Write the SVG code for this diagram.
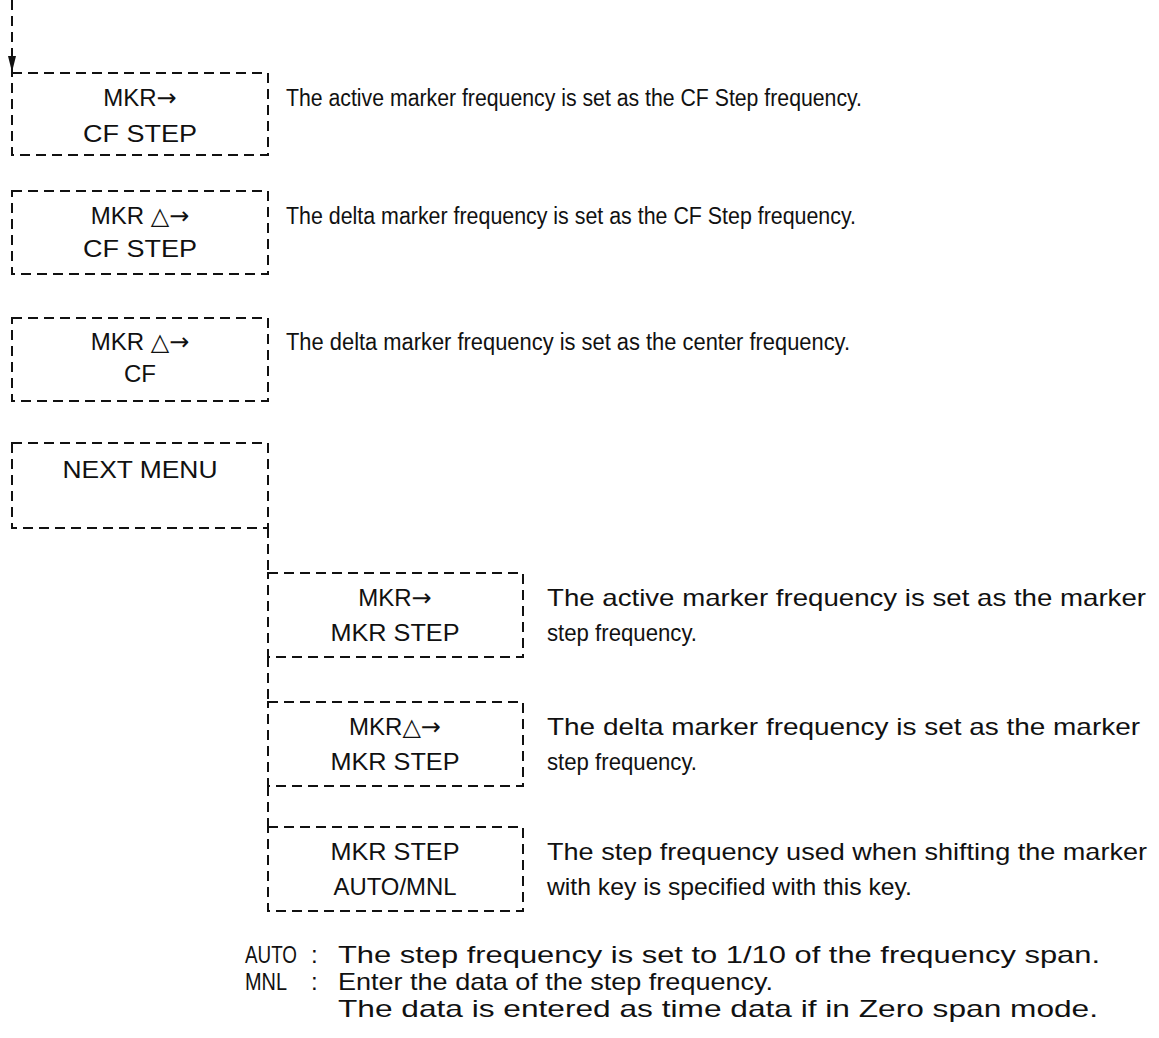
<svg xmlns="http://www.w3.org/2000/svg" width="1159" height="1038" viewBox="0 0 1159 1038">
<style>
.box{fill:none;stroke:#111;stroke-width:2;stroke-dasharray:10 6}
.con{fill:none;stroke:#111;stroke-width:2;stroke-dasharray:10 6}
text{font-family:"Liberation Sans","DejaVu Sans",sans-serif;font-size:23px;fill:#111}
.lbl{font-size:24px;text-anchor:middle}
.low{font-size:24px}
.ar{font-family:"DejaVu Sans",sans-serif}
</style>
<defs>
<marker id="ah" markerWidth="16" markerHeight="8" refX="16" refY="4" orient="auto" markerUnits="userSpaceOnUse" viewBox="0 0 16 8">
<path d="M0,0 L16,4 L0,8 Z" fill="#111"/>
</marker>
</defs>
<rect width="1159" height="1038" fill="#fff"/>
<g id="connectors">
<line class="con" x1="12" y1="0" x2="12" y2="72" marker-end="url(#ah)"/>
<line class="con" x1="268" y1="528" x2="268" y2="573"/>
<line class="con" x1="268" y1="657" x2="268" y2="702"/>
<line class="con" x1="268" y1="786" x2="268" y2="827"/>
</g>
<g id="n1">
<rect class="box" x="12" y="73" width="256" height="82"/>
<text class="lbl" x="140" y="106">MKR<tspan class="ar">→</tspan></text>
<text class="lbl" x="140" y="142" textLength="114" lengthAdjust="spacingAndGlyphs">CF STEP</text>
<text x="286" y="106" textLength="576" lengthAdjust="spacingAndGlyphs">The active marker frequency is set as the CF Step frequency.</text>
</g>
<g id="n2">
<rect class="box" x="12" y="191" width="256" height="83"/>
<text class="lbl" x="140" y="224">MKR △<tspan class="ar">→</tspan></text>
<text class="lbl" x="140" y="257" textLength="114" lengthAdjust="spacingAndGlyphs">CF STEP</text>
<text x="286" y="224" textLength="570" lengthAdjust="spacingAndGlyphs">The delta marker frequency is set as the CF Step frequency.</text>
</g>
<g id="n3">
<rect class="box" x="12" y="318" width="256" height="83"/>
<text class="lbl" x="140" y="350">MKR △<tspan class="ar">→</tspan></text>
<text class="lbl" x="140" y="382">CF</text>
<text x="286" y="350" textLength="564" lengthAdjust="spacingAndGlyphs">The delta marker frequency is set as the center frequency.</text>
</g>
<g id="n4">
<rect class="box" x="12" y="443" width="256" height="85"/>
<text class="lbl" x="140" y="478" textLength="155" lengthAdjust="spacingAndGlyphs">NEXT MENU</text>
</g>
<g id="n5">
<rect class="box" x="268" y="573" width="255" height="84"/>
<text class="lbl" x="395" y="606">MKR<tspan class="ar">→</tspan></text>
<text class="lbl" x="395" y="641" textLength="129" lengthAdjust="spacingAndGlyphs">MKR STEP</text>
<text class="low" x="547" y="606" textLength="599" lengthAdjust="spacingAndGlyphs">The active marker frequency is set as the marker</text>
<text class="low" x="547" y="641" textLength="150" lengthAdjust="spacingAndGlyphs">step frequency.</text>
</g>
<g id="n6">
<rect class="box" x="268" y="702" width="255" height="84"/>
<text class="lbl" x="395" y="735">MKR△<tspan class="ar">→</tspan></text>
<text class="lbl" x="395" y="770" textLength="129" lengthAdjust="spacingAndGlyphs">MKR STEP</text>
<text class="low" x="547" y="735" textLength="593" lengthAdjust="spacingAndGlyphs">The delta marker frequency is set as the marker</text>
<text class="low" x="547" y="770" textLength="150" lengthAdjust="spacingAndGlyphs">step frequency.</text>
</g>
<g id="n7">
<rect class="box" x="268" y="827" width="255" height="84"/>
<text class="lbl" x="395" y="860" textLength="129" lengthAdjust="spacingAndGlyphs">MKR STEP</text>
<text class="lbl" x="395" y="895" textLength="123" lengthAdjust="spacingAndGlyphs">AUTO/MNL</text>
<text class="low" x="547" y="860" textLength="600" lengthAdjust="spacingAndGlyphs">The step frequency used when shifting the marker</text>
<text class="low" x="547" y="895" textLength="365" lengthAdjust="spacingAndGlyphs">with key is specified with this key.</text>
</g>
<g id="notes">
<text class="low" x="245" y="963" textLength="52" lengthAdjust="spacingAndGlyphs">AUTO</text>
<text class="low" x="311" y="963">:</text>
<text class="low" x="338" y="963" textLength="762" lengthAdjust="spacingAndGlyphs">The step frequency is set to 1/10 of the frequency span.</text>
<text class="low" x="245" y="990" textLength="42" lengthAdjust="spacingAndGlyphs">MNL</text>
<text class="low" x="311" y="990">:</text>
<text class="low" x="338" y="990" textLength="435" lengthAdjust="spacingAndGlyphs">Enter the data of the step frequency.</text>
<text class="low" x="338" y="1017" textLength="760" lengthAdjust="spacingAndGlyphs">The data is entered as time data if in Zero span mode.</text>
</g>
</svg>
